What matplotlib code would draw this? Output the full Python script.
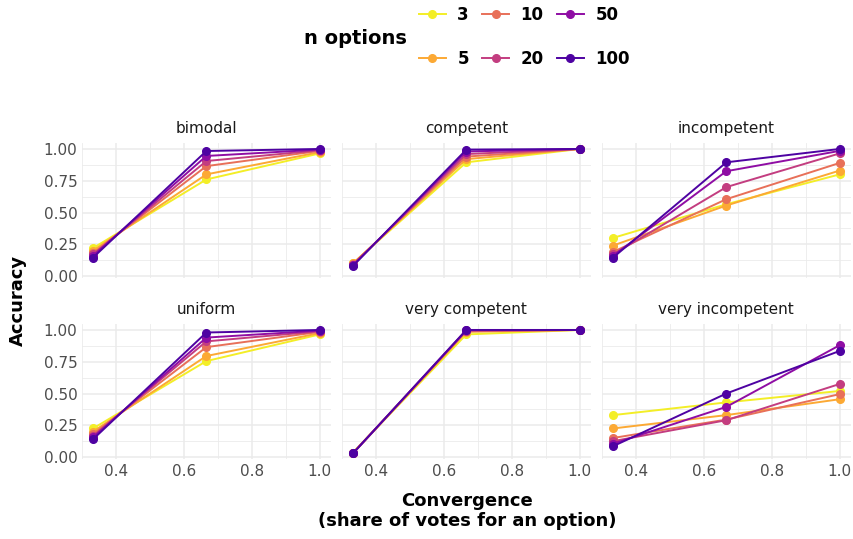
import numpy as np
import matplotlib
matplotlib.use("Agg")
import matplotlib.pyplot as plt
from matplotlib.lines import Line2D
from matplotlib.ticker import MultipleLocator

# data
convergence = [1 / 3, 2 / 3, 1.0]
n_options = ["3", "5", "10", "20", "50", "100"]
facets = ["bimodal", "competent", "incompetent",
          "uniform", "very competent", "very incompetent"]

bimodal = [
    [0.22, 0.76, 0.965],
    [0.20, 0.80, 0.975],
    [0.18, 0.865, 0.985],
    [0.17, 0.905, 0.99],
    [0.16, 0.945, 0.995],
    [0.145, 0.984, 1.0],
]
competent = [
    [0.10, 0.895, 1.0],
    [0.10, 0.92, 1.0],
    [0.095, 0.94, 1.0],
    [0.09, 0.96, 1.0],
    [0.085, 0.98, 1.0],
    [0.08, 0.995, 1.0],
]
incompetent = [
    [0.30, 0.565, 0.80],
    [0.24, 0.555, 0.83],
    [0.19, 0.605, 0.89],
    [0.17, 0.70, 0.965],
    [0.16, 0.825, 0.985],
    [0.145, 0.895, 1.0],
]
uniform = [
    [0.225, 0.755, 0.965],
    [0.20, 0.795, 0.975],
    [0.18, 0.865, 0.985],
    [0.165, 0.91, 0.99],
    [0.155, 0.94, 0.995],
    [0.14, 0.98, 1.0],
]
very_competent = [
    [0.035, 0.965, 1.0],
    [0.035, 0.985, 1.0],
    [0.03, 0.99, 1.0],
    [0.03, 0.995, 1.0],
    [0.03, 1.0, 1.0],
    [0.03, 1.0, 1.0],
]
very_incompetent = [
    [0.33, 0.43, 0.52],
    [0.225, 0.33, 0.455],
    [0.15, 0.295, 0.495],
    [0.125, 0.29, 0.575],
    [0.105, 0.395, 0.88],
    [0.085, 0.50, 0.835],
]
accuracy = [bimodal, competent, incompetent, uniform, very_competent, very_incompetent]

colors = [plt.cm.plasma(v) for v in np.linspace(0.975, 0.13, 6)]

W, H = 854, 539
fig = plt.figure(figsize=(W / 100, H / 100), dpi=100)
plt.rcParams['font.family'] = ['DejaVu Sans']

# panel boxes in pixels (left, right, top, bottom)
cols = [(81.7, 331.0), (341.7, 591.0), (601.7, 851.0)]
rows = [(142.8, 278.4), (323.8, 459.4)]
grid_col = "#EBEBEB"
tick_col = "#4D4D4D"

for i, name in enumerate(facets):
    r, c = divmod(i, 3)
    x0, x1 = cols[c]
    y0, y1 = rows[r]
    ax = fig.add_axes([x0 / W, 1 - y1 / H, (x1 - x0) / W, (y1 - y0) / H])
    ax.set_xlim(0.3, 1.0333)
    ax.set_ylim(-0.0185, 1.0485)
    ax.xaxis.set_major_locator(MultipleLocator(0.2))
    ax.xaxis.set_minor_locator(MultipleLocator(0.1))
    ax.yaxis.set_major_locator(MultipleLocator(0.25))
    ax.yaxis.set_minor_locator(MultipleLocator(0.125))
    ax.grid(True, which="major", color=grid_col, lw=1.1)
    ax.grid(True, which="minor", color=grid_col, lw=0.6)
    ax.set_axisbelow(True)
    for s in ax.spines.values():
        s.set_visible(False)
    ax.tick_params(which="both", length=0, labelsize=11, labelcolor=tick_col, pad=3)
    ax.set_xticks([0.4, 0.6, 0.8, 1.0])
    ax.set_xticklabels(["0.4", "0.6", "0.8", "1.0"])
    ax.set_yticks([0, 0.25, 0.5, 0.75, 1.0])
    ax.set_yticklabels(["0.00", "0.25", "0.50", "0.75", "1.00"])
    if c != 0:
        ax.tick_params(labelleft=False)
    if r == 0:
        ax.tick_params(labelbottom=False)
    for vals, col in zip(accuracy[i], colors):
        ax.plot(convergence, vals, color=col, lw=1.4, marker="o", ms=5.5,
                solid_capstyle="round")
    ax.set_title(name, fontsize=11, color="#1A1A1A", pad=7)

fig.text(18 / W, 1 - 300 / H, "Accuracy", rotation=90, ha="center", va="center",
         fontsize=13, fontweight="bold")
fig.text(467 / W, 1 - 511 / H, "Convergence\n(share of votes for an option)",
         ha="center", va="center", fontsize=13, fontweight="bold", linespacing=1.15)

handles = [Line2D([], [], color=col, lw=1.4, marker="o", ms=5.5) for col in colors]
fig.legend(handles, n_options, ncol=3, loc="center left",
           bbox_to_anchor=(419 / W, 1 - 37 / H), frameon=False,
           prop={"weight": "bold", "size": 12}, handlelength=1.6,
           handletextpad=0.7, columnspacing=0.8, labelspacing=1.55,
           borderpad=0, borderaxespad=0)
fig.text(355 / W, 1 - 39 / H, "n options", ha="center", va="center",
         fontsize=14, fontweight="bold")

fig.savefig("out.png", dpi=100)
